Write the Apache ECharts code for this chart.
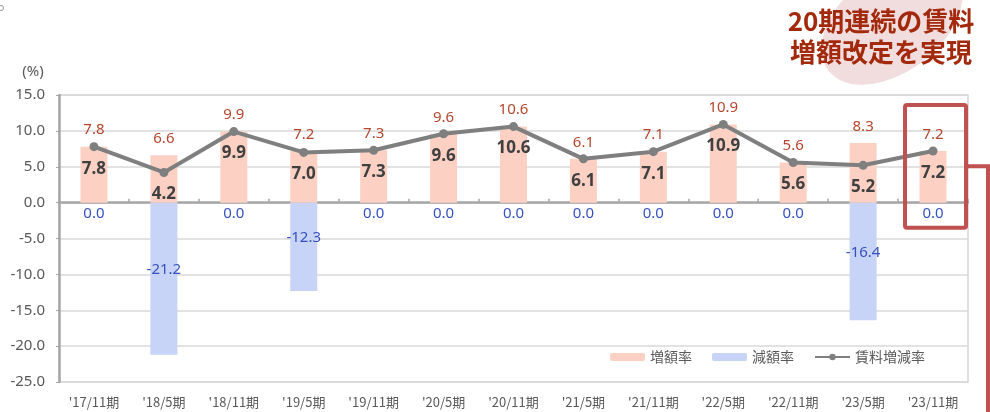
<!DOCTYPE html>
<html><head><meta charset="utf-8">
<script src="https://cdn.jsdelivr.net/npm/echarts@6/dist/echarts.min.js"></script>
<style>html,body{margin:0;padding:0;background:#fff}#c{width:990px;height:412px}</style>
</head><body><div id="c"></div>
<script>
const categories = ["'17/11期","'18/5期","'18/11期","'19/5期","'19/11期","'20/5期","'20/11期","'21/5期","'21/11期","'22/5期","'22/11期","'23/5期","'23/11期"];
const increaseRate = [7.8,6.6,9.9,7.2,7.3,9.6,10.6,6.1,7.1,10.9,5.6,8.3,7.2];
const decreaseRate = [0,-21.2,0,-12.3,0,0,0,0,0,0,0,-16.4,0];
const rentChangeRate = [7.8,4.2,9.9,7.0,7.3,9.6,10.6,6.1,7.1,10.9,5.6,5.2,7.2];
const yMin = -25, yMax = 15, yStep = 5;
const seriesNames = ['増額率','減額率','賃料増減率'];
const unitLabel = '(%)';
const headline = ['20期連続の賃料','増額改定を実現'];

const FONT = '"Noto Sans","Noto Sans CJK JP",sans-serif';
const JP = '"Noto Sans CJK JP",sans-serif';
const chart = echarts.init(document.getElementById('c'), null, {renderer:'canvas'});

const decData = decreaseRate.map(v => ({
  value: v,
  label: v < 0 ? {position:'inside', offset:[0,-9]} : {position:'bottom', distance:4}
}));

const baseGraphics = [
  {type:'ellipse', id:'blob', x:892, y:22, rotation:0.65, shape:{cx:0, cy:0, rx:80, ry:50}, style:{fill:'#f1dddd'}, z:0},
  {type:'text', id:'h1', x:881, y:21, style:{text:headline[0], font:'bold 26px '+JP, fill:'#a3290d', textAlign:'center', textVerticalAlign:'middle'}, z:1},
  {type:'text', id:'h2', x:881, y:52, style:{text:headline[1], font:'bold 26px '+JP, fill:'#a3290d', textAlign:'center', textVerticalAlign:'middle'}, z:1},
  {type:'text', id:'unit', x:33, y:72, style:{text:unitLabel, font:'15px '+FONT, fill:'#595959', textAlign:'center', textVerticalAlign:'middle'}},
  {type:'circle', id:'dot', shape:{cx:1, cy:8, r:2.5}, style:{fill:'none', stroke:'#999', lineWidth:1}}
];

chart.setOption({
  animation:false,
  textStyle:{fontFamily:FONT},
  grid:{left:59, right:22, top:95, bottom:30, show:true, borderColor:'#d6d6d6', borderWidth:1.5, containLabel:false},
  legend:{
    right:60, top:345, itemWidth:35, itemHeight:8, itemGap:20,
    textStyle:{fontSize:14, color:'#595959', fontFamily:JP},
    data:seriesNames
  },
  xAxis:[
    {type:'category', data:categories, boundaryGap:true,
     axisLine:{onZero:true, lineStyle:{color:'#a6a6a6', width:2.5}},
     axisTick:{show:true, inside:true, length:4, lineStyle:{color:'#a6a6a6', width:1.5}},
     axisLabel:{show:false}, splitLine:{show:false}},
    {type:'category', data:categories, position:'bottom', boundaryGap:true,
     axisLine:{show:false, onZero:false}, axisTick:{show:false},
     axisLabel:{margin:14, fontSize:13, color:'#595959', fontFamily:JP}, splitLine:{show:false}}
  ],
  yAxis:{type:'value', min:yMin, max:yMax, interval:yStep,
    axisLine:{show:true, lineStyle:{color:'#a6a6a6', width:2.5}},
    axisTick:{show:true, length:3, lineStyle:{color:'#a6a6a6'}},
    axisLabel:{fontSize:15, color:'#595959', margin:14, formatter:v=>v.toFixed(1)},
    splitLine:{lineStyle:{color:'#d9d9d9', width:1.5}}
  },
  series:[
    {name:seriesNames[0], type:'bar', xAxisIndex:0, data:increaseRate, barWidth:27, barGap:'-100%',
     itemStyle:{color:'#fcd1c4'},
     label:{show:true, position:'top', distance:9, fontSize:15, color:'#b5462d', formatter:p=>p.value.toFixed(1)}, z:2},
    {name:seriesNames[1], type:'bar', xAxisIndex:0, data:decData, barWidth:27, barGap:'-100%',
     itemStyle:{color:'#c7d3f7'},
     label:{show:true, fontSize:15, color:'#3651be', formatter:p=>p.value.toFixed(1)}, z:2},
    {name:seriesNames[2], type:'line', xAxisIndex:0, data:rentChangeRate,
     lineStyle:{color:'#7f7f7f', width:4}, itemStyle:{color:'#7f7f7f'},
     symbol:'circle', symbolSize:9,
     label:{show:true, position:'bottom', distance:9, fontSize:17, fontWeight:'bold', color:'#404040', formatter:p=>p.value.toFixed(1)}, z:3}
  ],
  graphic: baseGraphics
});

const last = categories.length - 1;
const cx = chart.convertToPixel({xAxisIndex:0}, last);
const yTop = chart.convertToPixel({yAxisIndex:0}, yMax);
const yZero = chart.convertToPixel({yAxisIndex:0}, 0);
const rx0 = cx - 28, rw = 61, ry0 = yTop + 10, rh = (yZero + 25) - ry0;
const midY = ry0 + rh * 0.5;
chart.setOption({graphic: baseGraphics.concat([
  {type:'rect', id:'hl', shape:{x:rx0, y:ry0, width:rw, height:rh, r:2}, style:{fill:'none', stroke:'#bf5150', lineWidth:4}, z:10},
  {type:'polyline', id:'conn', shape:{points:[[rx0+rw, midY],[988, midY],[988, 420]]}, style:{fill:'none', stroke:'#bf5150', lineWidth:4}, z:10}
])});
</script></body></html>
